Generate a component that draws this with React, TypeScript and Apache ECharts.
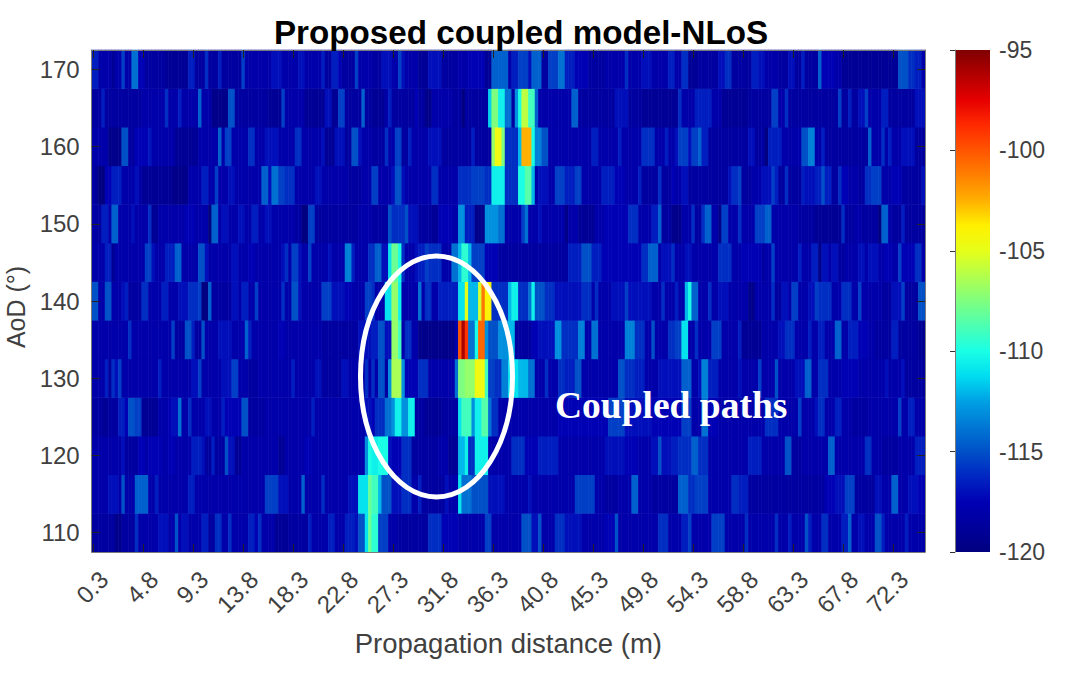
import React, { useEffect, useRef } from "react";
import * as echarts from "echarts";

const COLS = 250;
const STEP_M = 0.3;
const aodTicks = [110, 115, 120, 125, 130, 135, 140, 145, 150, 155, 160, 165, 170];

// Each row: pairs of (first column index, level in dB); the level holds until the next pair.
const row170 = [0,-116.5,2,-118,6,-119,7,-118,9,-115.5,10,-118,12,-114,14,-117.5,16,-118.5,22,-119,29,-116.5,31,-118.5,34,-116,35,-118.5,38,-116.5,39,-118.5,45,-115.5,46,-118,54,-117,57,-118,62,-117,64,-118,69,-116.5,70,-118.5,72,-116.5,74,-117.5,75,-118.5,79,-115.5,80,-118,84,-118.5,87,-117,90,-118,92,-115.5,93,-117,94,-118,98,-119,101,-117,105,-118.5,110,-118,113,-117.5,118,-119,120,-114.5,125,-118,126,-116.5,128,-115.5,131,-117,132,-114.5,135,-118.5,137,-115.5,140,-114,142,-116.5,145,-117.5,149,-118.5,154,-118,160,-116,161,-118,165,-117,168,-118,173,-116.5,175,-118,177,-116,179,-119,182,-118.5,188,-117,190,-116,192,-118.5,198,-116.5,200,-117,202,-118,206,-118.5,209,-117,211,-118.5,213,-116.5,214,-118.5,218,-114.5,219,-117.5,223,-118,225,-119,242,-115,245,-116,247,-116.5,249,-118];
const row165 = [0,-118.5,3,-116.5,4,-118.5,15,-118,22,-116,23,-118,26,-116.5,27,-118,32,-114.5,33,-118,36,-119.5,41,-115,43,-118.5,53,-119,57,-115.5,58,-118,64,-119,70,-117,72,-119,74,-115.5,76,-118.5,81,-114.5,82,-118.5,84,-119,88,-118,89,-116.5,90,-118.5,97,-117.5,98,-118.5,100,-119.5,102,-118,108,-118.5,111,-120,112,-118.5,119,-111.5,120,-107.5,122,-110.5,124,-114,126,-118.5,127,-113,128,-110,129,-106,131,-109,133,-114.5,134,-118,144,-114.5,146,-118.5,157,-117,161,-118.5,165,-119,176,-116,177,-118,181,-116.5,186,-118,189,-119,197,-118.5,204,-115.5,206,-118,208,-116,209,-118.5,224,-115.5,225,-118.5,227,-116.5,228,-118.5,230,-117,232,-115.5,233,-118,237,-116.5,239,-118.5,247,-117];
const row160 = [0,-118,5,-119.5,9,-115,11,-118.5,13,-117.5,17,-116.8,18,-118,25,-119,32,-118,38,-114.5,39,-118,40,-115.5,42,-118,47,-116,49,-118,52,-117,56,-118,61,-116,63,-118,69,-117,70,-119,73,-117,76,-118.5,78,-115,80,-117,81,-118,84,-118.5,88,-116,89,-118,91,-115.5,93,-118.5,95,-116.5,96,-118,101,-117,105,-118.5,114,-116.5,115,-118.5,120,-107,121,-104.5,123,-107.5,124,-116,128,-112,129,-102.5,132,-110,133,-113.5,135,-115,137,-118,150,-116.5,152,-118,158,-116.5,159,-118,165,-116,169,-118,172,-116.5,173,-118,175,-117,176,-115.5,179,-117,180,-115.5,182,-114.5,183,-116.5,185,-118.5,197,-117,199,-118.5,202,-120,203,-116.5,207,-118,213,-115,215,-113.5,217,-118,219,-116.5,220,-118.5,233,-114.5,234,-118,237,-116,238,-118,239,-116.5,240,-118,243,-117,247,-118.5];
const row155 = [0,-118,1,-119,2,-120,4,-117.5,6,-116.5,9,-118,13,-117,14,-118,15,-119,24,-119.5,29,-118,33,-116.5,35,-118,37,-115.5,38,-118,41,-117,43,-118,51,-114.5,53,-117,54,-114,56,-115.5,58,-116,61,-118,67,-117,69,-118,77,-118.5,81,-118,84,-115.5,86,-118,90,-117,91,-115,93,-117,94,-118,102,-116,104,-118,110,-116,114,-115.5,118,-116,120,-110.5,124,-116,128,-110,130,-108.5,132,-112,133,-118,134,-117,137,-118,139,-115.5,142,-116.5,145,-115.5,147,-118,153,-116.5,157,-117.5,160,-118,164,-116.5,165,-118.5,170,-116,171,-118.5,174,-117.5,175,-118,177,-117,179,-118.5,191,-117,192,-116,194,-115.5,195,-118.5,198,-118,201,-117,204,-115.5,205,-116.5,206,-118.5,208,-116,209,-118.5,213,-116.5,214,-117,217,-116.5,219,-115,220,-116.5,222,-118.5,224,-116,225,-117.5,227,-118,230,-118.5,232,-116,234,-115.5,237,-118,240,-117.5,243,-118.5,249,-117];
const row150 = [0,-118,1,-118.5,3,-116.5,5,-118,6,-114.5,8,-118,12,-117,13,-118,17,-116,18,-119,20,-118,28,-117.5,31,-118,35,-120,36,-114.5,38,-118,39,-117,41,-118,44,-117,46,-118,48,-116.5,50,-118,52,-117,54,-118,61,-118.5,63,-120,65,-115.5,67,-118.5,80,-118,84,-118.5,89,-115,90,-116,94,-115,95,-117,98,-118.5,102,-119,104,-117.5,108,-118,110,-113,112,-116.5,115,-119.5,118,-113,122,-114,124,-118,129,-115.5,130,-114,131,-118,134,-117,135,-118,142,-119.5,143,-118,146,-119,151,-118,154,-117.5,161,-116,164,-118,168,-116.5,170,-114.5,171,-118.5,174,-119.5,177,-118,180,-116,181,-118.5,183,-116,184,-114.5,186,-118,188,-119.5,189,-115.5,191,-118,194,-116,195,-118,199,-115.5,202,-114.5,204,-118,212,-118.5,217,-119,225,-116,226,-118.5,229,-118,231,-118.5,236,-120,237,-114.5,239,-118,240,-118.5,243,-116.5,244,-118.5];
const row145 = [0,-118,4,-116.5,6,-119,7,-118,16,-115.5,18,-117,19,-118,22,-116.5,25,-114.5,27,-118,32,-115,34,-117,35,-118,42,-117,44,-118,47,-117.5,49,-118,57,-117,58,-116,59,-118,60,-115.5,62,-117,63,-118,65,-115.5,66,-118,71,-117,72,-118,76,-113.5,78,-116.5,79,-118,83,-116,85,-114.5,87,-117,89,-111,90,-108,92,-110,93,-116,94,-118,97,-117,98,-116.5,100,-115.5,101,-116,105,-118,108,-114,110,-112,111,-109.5,113,-112,114,-115.5,118,-117.5,122,-118.5,143,-116.5,147,-115,150,-116.5,153,-117.5,165,-116,167,-114.5,170,-118,171,-117,174,-116,175,-118,178,-117,180,-118,188,-116,192,-118,195,-117.5,201,-118.5,202,-118,204,-115.5,205,-118,212,-116.5,213,-118,216,-116.5,218,-119.5,219,-117,221,-118,222,-117,224,-118.5,226,-118,230,-117,232,-118,233,-117,236,-118,238,-117.5,240,-118,242,-115.5,243,-117.5,247,-116,249,-118];
const row140 = [0,-115,2,-118,4,-115,6,-118,9,-117,10,-116.5,11,-118.5,15,-116,17,-118,21,-116.5,23,-118,26,-117,29,-116,32,-115.5,33,-120,35,-114.5,36,-118.5,42,-117,44,-118,45,-116.5,47,-118,49,-115.5,50,-118,57,-116,58,-118,60,-115,62,-117,63,-118,69,-115.5,72,-117,76,-117.5,78,-118,82,-115.5,84,-116,85,-118,88,-111,90,-107,92,-110.5,93,-118,98,-114,99,-118,100,-116,102,-118,104,-116.5,110,-111,112,-105,113,-112,116,-105.5,117,-101,118,-104,120,-116,125,-112,126,-110.5,128,-116,131,-114,132,-110.5,133,-115,136,-116,139,-117,147,-116,150,-118,151,-116,152,-118,156,-117,160,-115.5,161,-117,168,-118,171,-116,172,-118,175,-116.5,176,-118,178,-112,179,-110,180,-114.5,182,-118,185,-116,186,-118,188,-117,191,-118,197,-119.5,199,-118,204,-116,205,-118.5,207,-117,209,-118,210,-115.5,212,-118,215,-117,217,-115.5,218,-116,222,-118,225,-116,228,-118,230,-115.5,231,-118,237,-118.5,240,-117,243,-115.5,244,-118.5,248,-115];
const row135 = [0,-118,11,-116,12,-118,24,-115.5,25,-118.5,28,-115,30,-116.5,31,-118.5,33,-115,34,-118,38,-117,42,-118,46,-114.5,47,-116.5,48,-118,56,-117.5,58,-118,69,-118.5,80,-117,84,-116.5,86,-115,88,-117,90,-107,92,-109,93,-118,94,-116,96,-118,98,-119.5,109,-118,110,-100,111,-96,112,-99,113,-114,115,-110,116,-100.5,118,-113,119,-115,122,-113,125,-112,127,-118.5,132,-117.5,134,-117,139,-113,141,-116,146,-113.5,148,-118,150,-114,152,-118,160,-113.5,163,-116,166,-118,168,-115,169,-118,173,-116,175,-115.5,177,-111,179,-118,181,-116,182,-118,186,-115.5,189,-118,194,-116.5,195,-119,201,-118,206,-117,208,-116,211,-118,215,-116.5,216,-118,218,-116.5,220,-118,223,-114.5,225,-118,227,-116.5,230,-117.5,233,-118,235,-118.5,240,-116.5,242,-118.5,248,-119];
const row130 = [0,-118,4,-116.5,5,-118.5,6,-116,7,-117,8,-115.5,9,-118,20,-116.5,21,-118,30,-117,32,-115.5,33,-118,39,-117,42,-115.5,44,-118,47,-118.5,50,-118,60,-116.5,61,-118,67,-117,69,-118.5,75,-117,77,-118,82,-116,83,-118,84,-116,85,-118,86,-115,88,-118.5,89,-113,90,-106.5,93,-113,94,-117.5,98,-116,101,-118,109,-114,110,-107.5,112,-107,115,-104.5,118,-109,119,-115.5,121,-116,123,-113.5,125,-111,128,-112,131,-114,133,-118,136,-116,137,-118,140,-116,142,-116.5,145,-115,147,-118,158,-115,160,-116,163,-116.5,166,-118,170,-117,177,-114.5,180,-118,182,-117,183,-113.5,185,-116.5,188,-118,194,-117,195,-118,200,-115.5,201,-118,205,-115,206,-118,211,-117,214,-114.5,216,-118,218,-116,221,-118,225,-117.5,230,-118,238,-117,239,-118,243,-117,244,-118.5];
const row125 = [0,-118.5,3,-119,5,-118.5,8,-116.5,10,-117.5,11,-115,13,-115.5,15,-119,20,-118,23,-117.5,24,-117,26,-114,27,-118,29,-116,30,-118,34,-117,36,-118,39,-116.5,40,-117.5,45,-115,47,-118.5,52,-118,66,-116.5,67,-118,82,-117,84,-117.5,85,-116,88,-114,90,-113,91,-110.5,93,-113,95,-110.5,97,-118.5,100,-119,105,-118.5,110,-111,111,-109,114,-113,115,-110.5,117,-108.5,119,-114,120,-116,122,-118,140,-117.5,155,-115.5,160,-117,168,-117.5,177,-115.5,180,-118,183,-114,185,-117.5,188,-118,202,-116,206,-118,212,-115.5,213,-118,217,-117,218,-116,220,-118,223,-116.5,225,-118,228,-118.5,233,-118,242,-115.5,243,-118,245,-116.5,247,-118];
const row120 = [0,-118,9,-117,10,-118.5,14,-117.5,16,-118,17,-117.5,21,-118,23,-117.5,25,-118,30,-116.5,33,-117,34,-118.5,36,-116.5,37,-118.5,40,-115,41,-117,43,-119,45,-118,56,-119,58,-118,64,-117.5,66,-118,82,-113,83,-110,84,-110.5,86,-110,89,-117,90,-117.5,93,-116,96,-118.5,104,-118,107,-119,110,-112,112,-110.5,113,-116,115,-110.5,119,-118,126,-116,130,-117.5,134,-116.5,140,-118,154,-117,160,-117.5,164,-118,168,-117,170,-115,171,-117,174,-116.5,176,-116,180,-114.5,182,-116,185,-118,197,-116.5,201,-118,208,-115,210,-118.5,213,-118,221,-114.5,223,-118,232,-116,234,-118,237,-118.5,242,-118,247,-116.5];
const row115 = [0,-118,5,-117,8,-118,9,-115,10,-118,13,-114.5,17,-118,19,-116.5,20,-118,29,-116.5,31,-118,52,-115.5,56,-117,59,-118,63,-114.5,64,-118,69,-116,70,-118,77,-117,80,-111,83,-108,84,-109,86,-112,87,-115,90,-117,93,-116,96,-118,98,-116.5,99,-118.5,106,-117,107,-118,110,-111,111,-114,114,-115,119,-117,124,-118,131,-117,132,-118,145,-115.5,151,-118,154,-118.5,158,-118,162,-114.5,164,-118,168,-118.5,176,-114.5,179,-116,181,-115.5,185,-118,192,-116,194,-116.5,197,-118.5,220,-117.5,223,-117,226,-115.5,229,-118.5,235,-117,237,-118,240,-114.5,242,-118,245,-117,248,-117.5];
const row110 = [0,-118.5,7,-119.5,9,-118.5,13,-116,14,-118,20,-117,23,-118,25,-115,26,-118,27,-117,29,-118,33,-116.5,35,-118.5,37,-116,39,-118,41,-116,42,-118,47,-116.5,49,-117.5,50,-116,51,-118,55,-119,59,-118.5,65,-116.5,66,-118,71,-116.5,73,-118,76,-116.5,79,-117,80,-115,82,-111,83,-108,84,-109.5,86,-115.5,89,-118,92,-118.5,101,-116,105,-117.5,110,-118,118,-115.5,120,-118,129,-115,132,-117,134,-115,135,-118,139,-116,142,-117,147,-118,154,-117.5,157,-115,158,-118,170,-116,173,-118,177,-116.5,179,-115.5,180,-118,186,-115.5,190,-118,196,-116,197,-118,205,-116,206,-118,209,-116.5,210,-118,214,-115,215,-116.5,216,-118,219,-116,221,-118,225,-116.5,227,-114.5,228,-118,230,-117,232,-118,235,-115,237,-116.5,238,-118,244,-116.5,245,-118];

const rows = [row110, row115, row120, row125, row130, row135, row140, row145, row150, row155, row160, row165, row170];

const jetStops = ["#000080", "#00009c", "#0000b4", "#0026c2", "#0050c8", "#0078d4", "#00a0e4", "#00dcf0", "#19ffe6", "#4cffb3", "#7fff7f", "#b3ff4c", "#e6ff19", "#fff000", "#ffb000", "#ff8000", "#ff5500", "#ff2a00", "#e60000", "#b30000", "#800000"];

const FONT = "'Liberation Sans', Arial, sans-serif";
const INK = "#404040";

function cellsOf(row: number[], y: number): number[][] {
  const out: number[][] = [];
  for (let i = 0; i < row.length; i += 2) {
    const end = i + 2 < row.length ? row[i + 2] : COLS;
    for (let c = row[i]; c < end; c++) out.push([c, y, row[i + 1]]);
  }
  return out;
}

export default function App() {
  const ref = useRef<HTMLDivElement>(null);
  useEffect(() => {
    const chart = echarts.init(ref.current!, undefined, { renderer: "svg" });
    const distances = Array.from({ length: COLS }, (_, i) => (STEP_M * (i + 1)).toFixed(1));
    const aod = aodTicks.map(String);
    const data = rows.flatMap((r, y) => cellsOf(r, y));
    const frame = { show: true, lineStyle: { color: "#7a7a7a", width: 1 } };
    const xBase = {
      type: "category" as const,
      data: distances,
      boundaryGap: true,
      gridIndex: 0,
      z: 5,
      axisLine: frame,
      axisTick: { show: true, inside: true, alignWithLabel: true, length: 8, interval: 14, lineStyle: { color: "#222", width: 1 } },
      splitLine: { show: false },
    };
    const yBase = {
      type: "category" as const,
      data: aod,
      boundaryGap: true,
      gridIndex: 0,
      z: 5,
      axisLine: frame,
      axisTick: { show: true, inside: true, alignWithLabel: true, length: 8, interval: 1, lineStyle: { color: "#222", width: 1 } },
      splitLine: { show: false },
    };
    chart.setOption({
      animation: false,
      backgroundColor: "#ffffff",
      title: {
        text: "Proposed coupled model-NLoS",
        left: 516,
        top: 11,
        textAlign: "center",
        textStyle: { fontFamily: FONT, fontWeight: "bold", fontSize: 33.2, color: "#000" },
      },
      grid: [
        { left: 91.7, top: 50, width: 833.3, height: 502, outerBoundsMode: "none" },
        { left: 955, top: 50, width: 35, height: 502, outerBoundsMode: "none" },
      ],
      xAxis: [
        {
          ...xBase,
          position: "bottom",
          name: "Propagation distance (m)",
          nameLocation: "middle",
          nameGap: 77,
          nameTextStyle: { fontFamily: FONT, fontSize: 27.5, color: INK },
          axisLabel: { interval: 14, rotate: 45, margin: 34, padding: [0, -15, 0, 0], fontFamily: FONT, fontSize: 24, color: INK },
        },
        { ...xBase, position: "top", axisLabel: { show: false } },
        { type: "value", gridIndex: 1, show: false, min: 0, max: 1 },
      ],
      yAxis: [
        {
          ...yBase,
          position: "left",
          name: "AoD (°)",
          nameLocation: "middle",
          nameGap: 59,
          nameTextStyle: { fontFamily: FONT, fontSize: 25, color: INK, padding: [0, 12, 0, 0] },
          axisLabel: { interval: 1, margin: 12, fontFamily: FONT, fontSize: 24, color: INK },
        },
        { ...yBase, position: "right", axisLabel: { show: false } },
        {
          type: "value",
          gridIndex: 1,
          position: "right",
          min: -120,
          max: -95,
          interval: 5,
          z: 5,
          axisLine: frame,
          axisTick: { show: true, inside: true, length: 5, lineStyle: { color: "#333", width: 1 } },
          axisLabel: { margin: 9, fontFamily: FONT, fontSize: 23, color: INK },
          splitLine: { show: false },
        },
      ],
      visualMap: {
        type: "continuous",
        show: false,
        min: -120,
        max: -95,
        seriesIndex: 0,
        inRange: { color: jetStops },
      },
      series: [
        {
          type: "heatmap",
          xAxisIndex: 0,
          yAxisIndex: 0,
          data,
          z: 2,
          progressive: 0,
          itemStyle: { borderWidth: 0 },
          emphasis: { disabled: true },
          silent: true,
        },
      ],
      graphic: [
        {
          type: "rect",
          z: 1,
          silent: true,
          shape: { x: 955, y: 50, width: 35, height: 502 },
          style: {
            fill: new echarts.graphic.LinearGradient(
              0, 1, 0, 0,
              jetStops.map((color, i) => ({ offset: i / (jetStops.length - 1), color }))
            ),
          },
        },
        {
          type: "ellipse",
          z: 100,
          silent: true,
          shape: { cx: 436.5, cy: 376.5, rx: 76, ry: 120.5 },
          style: { fill: "transparent", stroke: "#ffffff", lineWidth: 5 },
        },
        {
          type: "text",
          z: 100,
          silent: true,
          x: 555,
          y: 386,
          style: {
            text: "Coupled paths",
            fill: "#ffffff",
            font: "bold 37.5px 'Liberation Serif', 'Times New Roman', serif",
          },
        },
      ],
    });
    return () => chart.dispose();
  }, []);
  return (
    <div
      ref={ref}
      style={{ position: "absolute", left: 0, top: 0, width: 1075, height: 677, background: "#fff" }}
    />
  );
}
